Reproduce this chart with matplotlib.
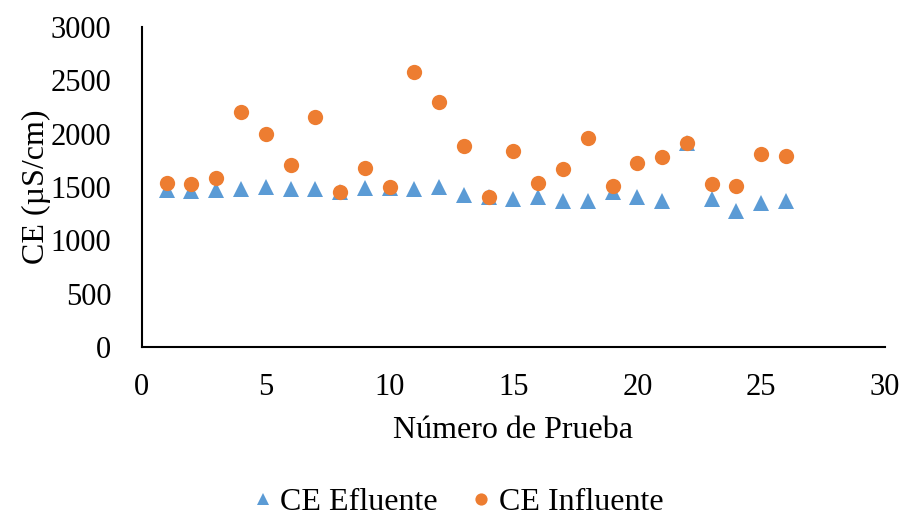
import matplotlib.pyplot as plt

plt.rcParams['font.family'] = ['Liberation Serif', 'DejaVu Serif']

prueba = list(range(1, 27))
ce_efluente = [1472, 1462, 1472, 1484, 1503, 1478, 1478, 1453, 1494, 1490,
               1478, 1497, 1428, 1406, 1392, 1404, 1372, 1372, 1453, 1404,
               1372, 1910, 1387, 1273, 1353, 1365]
ce_influente = [1535, 1528, 1584, 2203, 1997, 1706, 2156, 1450, 1681, 1500,
                2575, 2300, 1884, 1406, 1834, 1534, 1669, 1959, 1513, 1722,
                1781, 1916, 1525, 1506, 1806, 1788]

fig = plt.figure(figsize=(9.04, 5.18), dpi=100)
ax = fig.add_axes([0.157, 0.330, 0.822, 0.618])

ax.plot(prueba, ce_efluente, '^', color='#5B9BD5', ms=11, mew=0, label='CE Efluente')
ax.plot(prueba, ce_influente, 'o', color='#ED7D31', ms=11, mew=0, label='CE Influente')

ax.set_xlim(0, 30)
ax.set_ylim(0, 3000)
ax.set_xticks(range(0, 31, 5))
ax.set_yticks(range(0, 3001, 500))
ax.tick_params(length=0, labelsize=22)
ax.tick_params(axis='y', pad=22)
ax.tick_params(axis='x', pad=19)
for s in ['top', 'right']:
    ax.spines[s].set_visible(False)
for s in ['left', 'bottom']:
    ax.spines[s].set_linewidth(1.5)
    ax.spines[s].set_color('black')

ax.set_xlabel('Número de Prueba', fontsize=23, labelpad=10)
ax.set_ylabel('CE (µS/cm)', fontsize=23, labelpad=0)

fig.legend(loc='center', bbox_to_anchor=(0.505, 0.03), ncol=2, frameon=False,
           fontsize=23, handletextpad=0.15, columnspacing=0.95, markerscale=0.8,
           handlelength=0.8, borderpad=0.1)

fig.savefig('out.png', dpi=100)
